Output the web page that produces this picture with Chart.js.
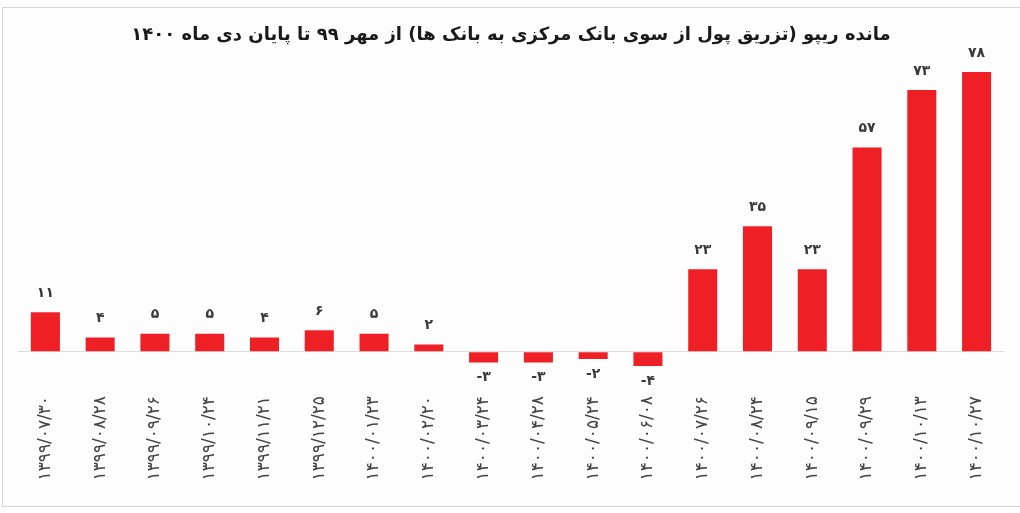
<!DOCTYPE html>
<html>
<head>
<meta charset="utf-8">
<script src="https://cdn.jsdelivr.net/npm/chart.js@4"></script>
<style>
  html, body { margin: 0; padding: 0; background: #fff; }
  #wrap { position: relative; width: 1020px; height: 513px; overflow: hidden; background: #fff; }
  #frame { position: absolute; left: 2px; top: 7px; width: 1030px; height: 500px; border: 1px solid #d6d6d6; background: #fdfdfd; box-sizing: border-box; }
  #repo { position: absolute; left: 0; top: 0; }
</style>
</head>
<body>
<div id="wrap">
  <div id="frame"></div>
  <canvas id="repo" width="1020" height="513"></canvas>
</div>
<script>
// تاریخ ها و مانده ریپو (هزار میلیارد تومان)
const dates = [
    '۱۳۹۹/۰۷/۳۰', '۱۳۹۹/۰۸/۲۸', '۱۳۹۹/۰۹/۲۶', '۱۳۹۹/۱۰/۲۴', '۱۳۹۹/۱۱/۲۱', '۱۳۹۹/۱۲/۲۵',
    '۱۴۰۰/۰۱/۲۳', '۱۴۰۰/۰۲/۲۰', '۱۴۰۰/۰۳/۲۴', '۱۴۰۰/۰۴/۲۸', '۱۴۰۰/۰۵/۲۴', '۱۴۰۰/۰۶/۰۸',
    '۱۴۰۰/۰۷/۲۶', '۱۴۰۰/۰۸/۲۴', '۱۴۰۰/۰۹/۱۵', '۱۴۰۰/۰۹/۲۹', '۱۴۰۰/۱۰/۱۳', '۱۴۰۰/۱۰/۲۷'
];
const repo = [11, 4, 5, 5, 4, 6, 5, 2, -3, -3, -2, -4, 23, 35, 23, 57, 73, 78];

const titleText = 'مانده ریپو (تزریق پول از سوی بانک مرکزی به بانک ها) از مهر ۹۹ تا پایان دی ماه ۱۴۰۰';

// chiffres persans
function toFa(n) {
    return String(n).replace(/\d/g, d => '۰۱۲۳۴۵۶۷۸۹'[d]);
}

// étiquettes de valeur au-dessus / en dessous des barres
const valueLabels = {
    id: 'valueLabels',
    afterDatasetsDraw(chart) {
        const ctx = chart.ctx;
        const meta = chart.getDatasetMeta(0);
        ctx.save();
        ctx.font = 'bold 14px "DejaVu Sans"';
        ctx.fillStyle = '#3a3a3a';
        ctx.textAlign = 'center';
        meta.data.forEach((bar, i) => {
            const v = repo[i];
            if (v >= 0) {
                ctx.textBaseline = 'bottom';
                ctx.fillText(toFa(v), bar.x, bar.y - 12);
            } else {
                ctx.textBaseline = 'top';
                ctx.fillText(toFa(v), bar.x, bar.y + 8);
            }
        });
        ctx.restore();
    }
};

const ctx_repo = document.getElementById('repo').getContext('2d');
new Chart(ctx_repo, {
    type: 'bar',
    data: {
        labels: dates,
        datasets: [{
            data: repo,
            backgroundColor: '#ee1f25',
            borderWidth: 0,
            barPercentage: 0.53,
            categoryPercentage: 1.0
        }]
    },
    options: {
        responsive: false,
        animation: false,
        layout: { padding: { left: 18, right: 16, top: 0, bottom: 0 } },
        plugins: {
            legend: { display: false },
            tooltip: { enabled: false },
            title: {
                display: true,
                text: titleText,
                color: '#1a1a1a',
                font: { family: '"DejaVu Sans"', size: 18, weight: 'bold' },
                padding: { top: 25, bottom: 4 }
            }
        },
        scales: {
            x: {
                grid: { display: false },
                border: { display: false },
                afterFit: s => { s.height = 129; },
                ticks: {
                    color: '#444',
                    font: { family: '"DejaVu Sans"', size: 17 },
                    minRotation: 90,
                    maxRotation: 90,
                    padding: 4
                }
            },
            y: {
                min: -9,
                max: 84,
                ticks: { display: false, stepSize: 1 },
                border: { display: false },
                grid: {
                    color: c => c.tick.value === 0 ? '#dcdcdc' : 'transparent',
                    lineWidth: 1,
                    drawTicks: false
                }
            }
        }
    },
    plugins: [valueLabels]
});
</script>
</body>
</html>
